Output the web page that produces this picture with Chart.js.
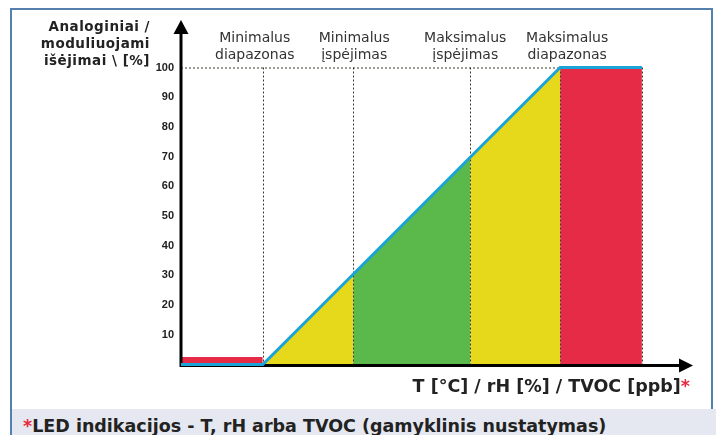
<!DOCTYPE html>
<html lang="lt">
<head>
<meta charset="utf-8">
<script src="https://cdn.jsdelivr.net/npm/chart.js@4.4.1/dist/chart.umd.min.js"></script>
<style>
  body { margin: 0; background: #fff; }
  #wrap { position: relative; width: 716px; height: 435px; overflow: hidden; font-family: "DejaVu Sans", Verdana, sans-serif; }
  #frame { position: absolute; left: 10px; top: 8px; width: 703px; height: 460px; border: 2px solid #5580ad; box-sizing: border-box; }
  #note { position: absolute; left: 12px; top: 409px; width: 704px; height: 40px; background: #e5e8f0; }
  #note p { margin: 0; position: absolute; left: 11px; top: 7px; line-height: 20px; font-size: 17.5px; font-weight: bold; color: #222; white-space: nowrap; }
  #note span { color: #e8283c; }
  canvas { position: absolute; left: 0; top: 0; }
</style>
</head>
<body>
<div id="wrap">
  <div id="frame"></div>
  <div id="note"><p><span>*</span>LED indikacijos - T, rH arba TVOC (gamyklinis nustatymas)</p></div>
  <canvas id="chart" width="716" height="435"></canvas>
</div>
<script>
// zone borders on the x axis (no units shown, 0..100 of the axis length)
const zoneEdges = [16, 33.7, 56.6, 74.2, 90.2];
// analog output in % at each border
const outputAtEdges = [0, 30.4, 69.8, 100, 100];
// small red bar under the minimal range
const lowAlarmLevel = 2.5;
const zoneNames = [
    ['Minimalus', 'diapazonas'],
    ['Minimalus', 'įspėjimas'],
    ['Maksimalus', 'įspėjimas'],
    ['Maksimalus', 'diapazonas']
];
const yTicks = [10, 20, 30, 40, 50, 60, 70, 80, 90, 100];
const yTitle = ['Analoginiai /', 'moduliuojami', 'išėjimai \\ [%]'];
const xTitle = 'T [°C] / rH [%] / TVOC [ppb]';

const RED = '#e52b45';
const YELLOW = '#e6d81a';
const GREEN = '#5ab94a';
const CYAN = '#1ba4d8';
const fillColors = [YELLOW, GREEN, YELLOW, RED];

// cyan output line goes first so it is drawn on top
const datasets = [{
    data: [{ x: 0, y: 0 }].concat(zoneEdges.map((x, i) => ({ x: x, y: outputAtEdges[i] }))),
    borderColor: CYAN,
    borderWidth: 3,
    fill: false,
    clip: false
}, {
    data: [{ x: 0, y: lowAlarmLevel }, { x: zoneEdges[0], y: lowAlarmLevel }],
    backgroundColor: RED,
    borderWidth: 0,
    fill: 'origin'
}];
for (let i = 0; i < zoneEdges.length - 1; i++) {
    datasets.push({
        data: [{ x: zoneEdges[i], y: outputAtEdges[i] }, { x: zoneEdges[i + 1], y: outputAtEdges[i + 1] }],
        backgroundColor: fillColors[i],
        borderWidth: 0,
        fill: 'origin'
    });
}

const decorations = {
    id: 'decorations',
    beforeDatasetDraw(chart, args) {
        if (args.index !== 0) return;
        const ctx = chart.ctx;
        const x = chart.scales.x, y = chart.scales.y;
        const top = y.getPixelForValue(100), bottom = y.getPixelForValue(0);
        const left = x.getPixelForValue(0);
        ctx.save();
        // dotted guides
        ctx.strokeStyle = '#3a3a2e';
        ctx.lineWidth = 1;
        ctx.setLineDash([2, 2]);
        ctx.beginPath();
        ctx.moveTo(left, top + 0.5);
        ctx.lineTo(x.getPixelForValue(zoneEdges[3]), top + 0.5);
        zoneEdges.forEach(v => {
            const px = Math.round(x.getPixelForValue(v)) + 0.5;
            ctx.moveTo(px, top);
            ctx.lineTo(px, bottom);
        });
        ctx.stroke();
        ctx.setLineDash([]);
        // axes with arrows
        ctx.strokeStyle = '#000';
        ctx.fillStyle = '#000';
        ctx.lineWidth = 3;
        ctx.beginPath();
        ctx.moveTo(left, bottom + 1);
        ctx.lineTo(left, 30);
        ctx.moveTo(left - 1.5, bottom + 1);
        ctx.lineTo(682, bottom + 1);
        ctx.stroke();
        ctx.beginPath();
        ctx.moveTo(left, 20);
        ctx.lineTo(left - 7.5, 34);
        ctx.lineTo(left + 7.5, 34);
        ctx.closePath();
        ctx.fill();
        ctx.beginPath();
        ctx.moveTo(693, bottom + 1);
        ctx.lineTo(679, bottom + 1 - 7);
        ctx.lineTo(679, bottom + 1 + 7);
        ctx.closePath();
        ctx.fill();
        ctx.restore();
    },
    afterDraw(chart) {
        const ctx = chart.ctx;
        const x = chart.scales.x;
        const shifts = [-8, 1, -5, 7];
        ctx.save();
        ctx.fillStyle = '#333';
        ctx.textAlign = 'center';
        ctx.font = '14px "DejaVu Sans", Verdana, sans-serif';
        zoneNames.forEach((lines, i) => {
            const cx = x.getPixelForValue(zoneEdges[i]) + shifts[i];
            ctx.fillText(lines[0], cx, 42);
            ctx.fillText(lines[1], cx, 58.5);
        });
        ctx.fillStyle = '#222';
        ctx.textAlign = 'right';
        ctx.font = 'bold 13.5px "DejaVu Sans", Verdana, sans-serif';
        ctx.letterSpacing = '0.5px';
        yTitle.forEach((t, i) => ctx.fillText(t, 150, 30.5 + i * 17));
        ctx.letterSpacing = '0px';
        ctx.font = 'bold 17.5px "DejaVu Sans", Verdana, sans-serif';
        const starW = ctx.measureText('*').width;
        ctx.fillText(xTitle, 690 - starW, 392);
        ctx.fillStyle = '#e8283c';
        ctx.fillText('*', 690, 392);
        ctx.restore();
    }
};

new Chart(document.getElementById('chart'), {
    type: 'line',
    data: { datasets: datasets },
    options: {
        responsive: false,
        animation: false,
        layout: { padding: { left: 0, right: 24, top: 67.5, bottom: 70.5 } },
        elements: { point: { radius: 0 }, line: { tension: 0 } },
        plugins: { legend: { display: false }, tooltip: { enabled: false } },
        scales: {
            x: { type: 'linear', min: 0, max: 100, display: false },
            y: {
                min: 0,
                max: 100,
                afterFit: s => { s.width = 181; },
                grid: { display: false, drawTicks: false },
                border: { display: false },
                ticks: {
                    stepSize: 10,
                    padding: 7,
                    color: '#222',
                    font: { family: '"Liberation Sans", Arial, sans-serif', size: 11, weight: 'bold' },
                    callback: v => yTicks.includes(v) ? v : ''
                }
            }
        }
    },
    plugins: [decorations]
});
</script>
</body>
</html>
